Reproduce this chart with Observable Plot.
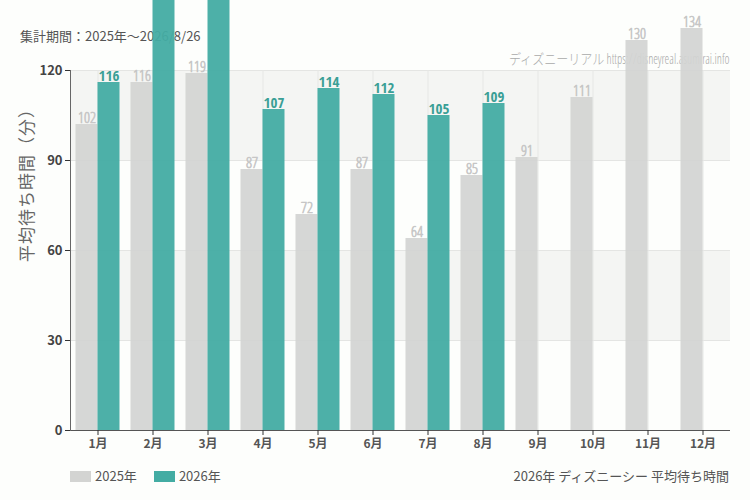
<!DOCTYPE html>
<html><head><meta charset="utf-8">
<script src="https://cdn.jsdelivr.net/npm/d3@7"></script>
<script src="https://cdn.jsdelivr.net/npm/@observablehq/plot@0.6"></script>
<style>
body{margin:0;background:#fdfefc;font-family:"Noto Sans CJK JP","Noto Sans",sans-serif;}
#wrap{position:relative;width:750px;height:500px;overflow:hidden;}
.abs{position:absolute;white-space:nowrap;line-height:16px;}
#title{left:20px;top:28px;font-size:13px;color:#555;z-index:0;}
#wm{right:20px;top:51px;font-size:14px;font-weight:300;color:#aaaaaa;z-index:0;font-family:"Open Sans Condensed Light","Open Sans Condensed","Noto Sans CJK JP",sans-serif;font-stretch:condensed;transform:scaleX(0.86);transform-origin:right center;}
#ylabel{left:26px;top:181px;font-size:17px;letter-spacing:1px;color:#666;transform:translate(-50%,-50%) rotate(-90deg);}
#chart{position:absolute;left:0;top:0;z-index:1;}
#legend{left:70px;top:468px;font-size:13px;color:#555;display:flex;align-items:center;}
.sw{display:inline-block;width:21px;height:11px;margin-right:4px;}
.item{display:flex;align-items:center;margin-right:17px;}
#caption{right:21px;top:468px;font-size:13px;color:#555;}
.cond text{font-stretch:condensed;}
</style></head><body>
<div id="wrap">
  <div id="title" class="abs">集計期間：2025年～2026/8/26</div>
  <div id="wm" class="abs">ディズニーリアル https://disneyreal.asumirai.info</div>
  <div id="ylabel" class="abs">平均待ち時間（分）</div>
  <div id="chart"></div>
  <div id="legend" class="abs"></div>
  <div id="caption" class="abs">2026年 ディズニーシー 平均待ち時間</div>
</div>
<script>
const months = ["1月","2月","3月","4月","5月","6月","7月","8月","9月","10月","11月","12月"];
const series = ["2025年","2026年"];
const colors = ["#d3d4d2","#43aca3"];
const v2025 = [102,116,119,87,72,87,64,85,91,111,130,134];
const v2026 = [116,150,158,107,114,112,105,109];
const yTicks = [0,30,60,90,120];
const bandRanges = [[90,120],[30,60]];

const d25 = months.map((m,i)=>({month:m,value:v2025[i]}));
const d26 = v2026.map((v,i)=>({month:months[i],value:v}));
const bands = bandRanges.map(([a,b])=>({y1:a,y2:b}));
const boldFont = "'Open Sans Condensed','DejaVu Sans Condensed',sans-serif";
const lightFont = "'Open Sans Condensed Light','Open Sans Condensed','DejaVu Sans Condensed',sans-serif";
// labels of bars running past the top of the picture are not visible in the reference
const visible = d => d.value <= 140;

const chart = Plot.plot({
  width:750, height:455,
  marginTop:70, marginBottom:25, marginLeft:70, marginRight:20,
  style:{background:"transparent", overflow:"visible", fontFamily:"'Noto Sans CJK JP','Noto Sans',sans-serif"},
  x:{type:"band", domain:months, paddingInner:0.2, paddingOuter:0.1, round:false, label:null},
  y:{domain:[0,120], label:null},
  marks:[
    Plot.rect(bands,{y1:"y1",y2:"y2",fill:"#f4f5f3"}),
    Plot.gridY(yTicks.slice(1),{stroke:"#e4e5e3",strokeOpacity:1}),
    Plot.gridX(months,{stroke:"#e6e7e5",strokeOpacity:1}),
    Plot.barY(d25,{x:"month",y:"value",fill:colors[0],fillOpacity:0.92,insetRight:22}),
    Plot.barY(d26,{x:"month",y:"value",fill:colors[1],fillOpacity:0.95,insetLeft:22}),
    Plot.text(d25.filter(visible),{x:"month",y:"value",text:"value",dx:-11,dy:-2,lineAnchor:"bottom",fill:"#c6c6c6",stroke:"#c6c6c6",strokeWidth:0.6,fontSize:15,fontWeight:300,fontFamily:lightFont,className:"cond"}),
    Plot.text(d26.filter(visible),{x:"month",y:"value",text:"value",dx:11,dy:-2,lineAnchor:"bottom",fill:"#3a9f96",fontSize:15,fontWeight:"bold",fontFamily:boldFont,className:"cond"}),
    Plot.ruleY([0],{stroke:"#555"}),
    Plot.frame({anchor:"left",stroke:"#666"}),
    Plot.axisY({ticks:yTicks,tickSize:5,tickPadding:3,fontSize:13,fontWeight:600,fill:"#444",stroke:"#333"}),
    Plot.axisX({tickSize:5,tickPadding:4,fontSize:12,fontWeight:600,fill:"#555",stroke:"#333"})
  ]
});
document.getElementById("chart").appendChild(chart);

const legend = document.getElementById("legend");
series.forEach((s,i)=>{
  const it=document.createElement("span"); it.className="item";
  const sw=document.createElement("span"); sw.className="sw"; sw.style.background=colors[i];
  it.appendChild(sw); it.appendChild(document.createTextNode(s));
  legend.appendChild(it);
});
</script>
</body></html>
